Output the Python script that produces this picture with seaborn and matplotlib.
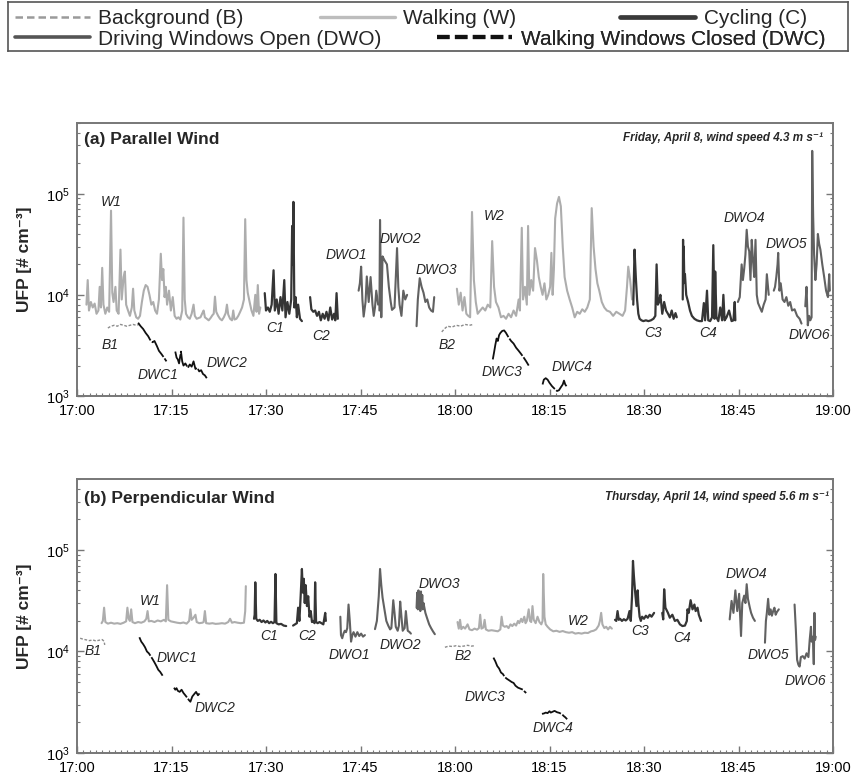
import numpy as np
import pandas as pd
import matplotlib
matplotlib.use("Agg")
import matplotlib.pyplot as plt
from matplotlib.lines import Line2D
from matplotlib.ticker import (FixedLocator, FuncFormatter, LogLocator,
                               NullFormatter, MultipleLocator)
import seaborn as sns

# ---------------------------------------------------------------------------
# UFP samples, (minutes after 17:00, concentration in 10^3 # cm^-3)
# ---------------------------------------------------------------------------
# (a) Parallel wind, Friday April 8
A_B1 = [(4.9, 4.7), (5.4, 4.9), (5.9, 5.0), (6.4, 4.9), (6.9, 5.1), (7.4, 5.0), (7.9, 4.9),
        (8.4, 5.0), (8.9, 5.1), (9.4, 5.0), (9.9, 5.1)]
A_W1 = [(1.5, 8.0), (1.7, 14.0), (1.9, 7.0), (2.2, 8.5), (2.5, 7.5), (2.8, 8.2), (3.1, 6.5),
        (3.4, 7.0), (3.6, 12.0), (3.8, 7.5), (4.0, 18.5), (4.2, 8.0), (4.5, 6.5), (4.8, 7.5),
        (5.1, 6.8), (5.4, 68.0), (5.6, 10.5), (5.8, 8.5), (6.1, 12.0), (6.3, 7.0), (6.6, 6.5),
        (6.9, 28.0), (7.1, 9.0), (7.4, 15.0), (7.6, 17.0), (7.8, 8.0), (8.1, 7.0), (8.4, 6.2),
        (8.7, 7.5), (8.9, 11.5), (9.1, 7.0), (9.4, 6.0), (9.7, 5.8), (10.0, 6.2), (10.3, 8.5),
        (10.6, 11.0), (10.9, 12.5), (11.2, 12.0), (11.5, 10.0), (11.8, 8.0), (12.1, 8.5),
        (12.4, 7.0), (12.7, 6.5), (13.0, 9.0), (13.3, 25.5), (13.5, 14.0), (13.7, 18.0),
        (13.9, 9.5), (14.1, 12.0), (14.3, 8.0), (14.6, 11.0), (14.9, 7.0), (15.2, 9.5),
        (15.5, 6.2), (15.8, 5.8), (16.1, 6.0), (16.4, 5.7), (16.7, 7.0), (16.9, 58.0),
        (17.1, 9.0), (17.3, 6.5), (17.6, 6.0), (17.9, 5.8), (18.2, 6.5), (18.5, 8.0),
        (18.7, 6.2), (19.0, 5.8), (19.3, 5.9), (19.6, 6.0), (19.9, 6.6), (20.1, 7.0),
        (20.3, 6.0), (20.6, 5.8), (20.9, 5.6), (21.2, 5.9), (21.5, 6.3), (21.7, 6.5),
        (21.9, 9.6), (22.1, 6.8), (22.4, 6.2), (22.7, 5.8), (23.0, 5.6), (23.3, 6.0),
        (23.6, 6.6), (23.8, 8.0), (24.0, 6.4), (24.3, 5.8), (24.6, 5.6), (24.8, 7.0),
        (25.0, 5.7), (25.3, 5.8), (25.6, 6.2), (25.9, 6.8), (26.2, 7.5), (26.5, 9.0),
        (26.7, 56.0), (26.9, 14.0), (27.1, 10.5), (27.4, 8.5), (27.7, 7.0), (28.0, 6.2),
        (28.3, 10.0), (28.5, 6.8), (28.7, 12.5), (28.9, 6.5), (29.1, 7.5)]
A_DWC1 = [(9.7, 5.3), (10.1, 4.9), (10.5, 4.6), (10.9, 4.2), (11.3, 3.9), (11.6, 3.6),
          (12.0, 3.4), (12.3, 3.5), (12.7, 3.1), (13.0, 2.8), (13.4, 2.6), (13.8, 2.4),
          (14.2, 2.2)]
A_DWC2 = [(15.6, 2.75), (15.8, 2.4), (16.0, 2.3), (16.2, 2.1), (16.5, 2.75), (16.7, 2.2),
          (16.9, 2.0), (17.2, 2.1), (17.6, 1.9), (17.9, 2.05), (18.2, 1.95), (18.5, 2.2),
          (18.8, 1.85), (19.1, 1.9), (19.4, 1.75), (19.7, 1.8), (20.0, 1.65), (20.3, 1.6),
          (20.6, 1.5)]
A_C1 = [(29.8, 10.4), (30.0, 7.0), (30.3, 7.5), (30.6, 6.8), (30.9, 8.0), (31.2, 17.5),
        (31.4, 7.0), (31.7, 9.0), (32.0, 6.5), (32.3, 9.5), (32.6, 7.0), (32.9, 14.0),
        (33.1, 6.0), (33.4, 8.5), (33.7, 6.5), (34.0, 9.0), (34.15, 48.0), (34.25, 20.0),
        (34.35, 83.0), (34.5, 7.5), (34.7, 9.5), (34.9, 6.0), (35.1, 8.0), (35.4, 5.8),
        (35.7, 5.5)]
A_C2 = [(37.0, 9.5), (37.2, 7.2), (37.5, 6.8), (37.8, 7.0), (38.1, 6.2), (38.4, 6.8),
        (38.7, 5.6), (39.0, 6.5), (39.3, 5.8), (39.6, 6.8), (39.9, 5.6), (40.2, 7.5),
        (40.5, 5.7), (40.8, 6.5), (41.0, 5.6), (41.2, 10.4), (41.4, 5.8)]
A_DWO1 = [(44.7, 11.0), (44.9, 13.0), (45.1, 19.0), (45.3, 9.0), (45.5, 6.1), (45.8, 8.5),
          (46.0, 15.2), (46.3, 8.5), (46.6, 15.0), (46.9, 8.0), (47.1, 6.2), (47.3, 7.5),
          (47.5, 11.0), (47.8, 8.0)]
A_DWO2 = [(48.0, 7.0), (48.1, 55.0), (48.3, 6.0), (48.5, 24.0), (48.8, 22.0), (49.2, 20.0),
          (49.5, 12.0), (49.8, 8.5), (50.0, 7.1), (50.4, 7.5), (50.8, 29.0), (51.0, 12.0),
          (51.2, 8.0), (51.5, 6.2), (51.8, 11.0), (52.1, 9.0), (52.4, 10.0)]
A_DWO3 = [(53.9, 4.9), (54.1, 9.0), (54.4, 14.6), (54.7, 12.0), (55.0, 10.5), (55.3, 8.5),
          (55.6, 9.0), (55.9, 7.5), (56.2, 7.0), (56.5, 6.8), (56.7, 9.5)]
A_B2 = [(57.9, 4.3), (58.3, 4.6), (58.8, 4.9), (59.5, 4.8), (60.2, 5.0), (60.9, 4.9),
        (61.6, 5.1), (62.3, 5.0), (62.9, 5.1)]
A_W2 = [(60.3, 11.5), (60.6, 8.0), (60.9, 10.5), (61.2, 7.0), (61.5, 9.5), (61.8, 6.5),
        (62.1, 6.2), (62.4, 6.0), (62.7, 66.0), (63.0, 14.0), (63.3, 8.5), (63.6, 6.5),
        (64.0, 7.0), (64.4, 7.5), (64.8, 7.0), (65.2, 8.0), (65.6, 7.5), (65.9, 34.0),
        (66.2, 12.0), (66.5, 8.5), (66.9, 7.5), (67.3, 6.0), (67.7, 6.2), (68.1, 5.8),
        (68.5, 6.5), (68.9, 6.0), (69.3, 7.0), (69.7, 6.2), (70.1, 9.0), (70.3, 7.0),
        (70.6, 46.0), (70.8, 9.0), (71.1, 12.0), (71.4, 8.0), (71.6, 48.0), (71.8, 10.0),
        (72.1, 14.0), (72.4, 11.0), (72.7, 29.0), (73.0, 22.0), (73.3, 15.0), (73.6, 12.0),
        (73.9, 10.0), (74.2, 13.0), (74.5, 9.0), (74.8, 10.0), (75.1, 12.0), (75.3, 26.0),
        (75.5, 10.0), (75.7, 18.0), (75.9, 57.0), (76.2, 80.0), (76.5, 93.0), (76.8, 75.0),
        (77.1, 30.0), (77.4, 15.0), (77.8, 11.0), (78.2, 9.0), (78.6, 7.5), (79.0, 6.0),
        (79.4, 6.8), (79.8, 6.5), (80.2, 7.2), (80.6, 6.8), (81.0, 7.5), (81.4, 9.0),
        (81.7, 72.0), (82.0, 30.0), (82.3, 18.0), (82.6, 13.0), (82.9, 11.0), (83.3, 8.5),
        (83.7, 7.5), (84.1, 7.0), (84.6, 6.8), (85.1, 6.2), (85.6, 6.8), (86.1, 6.5),
        (86.6, 6.2), (87.0, 7.0), (87.3, 12.0), (87.5, 19.0), (87.8, 14.0), (88.1, 9.0)]
A_DWC3 = [(66.0, 2.3), (66.2, 2.7), (66.4, 3.2), (66.6, 3.7), (66.8, 3.5), (67.0, 4.0),
          (67.2, 4.2), (67.5, 4.4), (67.8, 4.45), (68.1, 4.2), (68.5, 3.8), (68.9, 3.5),
          (69.3, 3.3), (69.7, 3.0), (70.1, 2.8), (70.5, 2.6), (70.9, 2.4), (71.3, 2.2),
          (71.7, 2.0)]
A_DWC4 = [(73.9, 1.3), (74.1, 1.45), (74.4, 1.5), (74.7, 1.45), (75.0, 1.35), (75.4, 1.25),
          (75.8, 1.18), (76.2, 1.12), (76.5, 1.14), (76.8, 1.22), (77.1, 1.3), (77.3, 1.42),
          (77.5, 1.3), (77.7, 1.25)]
A_C3 = [(88.3, 8.0), (88.5, 28.0), (88.7, 15.0), (88.9, 9.0), (89.1, 6.5), (89.3, 5.8),
        (89.6, 5.6), (89.9, 5.5), (90.3, 5.6), (90.7, 5.5), (91.1, 5.6), (91.5, 5.8),
        (91.8, 6.2), (92.0, 20.0), (92.2, 8.0), (92.4, 8.5), (92.6, 10.0), (92.9, 6.5),
        (93.2, 8.5), (93.5, 7.0), (93.8, 6.5), (94.1, 6.0), (94.4, 7.0), (94.7, 5.8),
        (95.0, 6.6), (95.2, 6.0)]
A_C4 = [(96.15, 9.0), (96.2, 35.0), (96.25, 13.0), (96.3, 30.0), (96.4, 14.0), (96.5, 16.0),
        (96.7, 10.0), (97.0, 8.5), (97.3, 7.0), (97.6, 6.2), (98.0, 5.8), (98.4, 5.6),
        (98.8, 5.5), (99.2, 5.5), (99.5, 8.3), (99.7, 5.6), (100.0, 11.0), (100.2, 5.6),
        (100.5, 5.5), (100.8, 6.0), (101.0, 31.0), (101.2, 5.8), (101.3, 17.0), (101.5, 6.0),
        (101.8, 5.5), (102.1, 7.5), (102.4, 5.6), (102.6, 10.0), (102.8, 5.6), (103.1, 6.0),
        (103.5, 7.0), (103.9, 5.5), (104.2, 5.6), (104.4, 8.5), (104.5, 5.6)]
A_DWO4 = [(104.9, 8.5), (105.2, 9.5), (105.5, 20.0), (105.7, 14.0), (105.9, 18.0),
          (106.1, 25.0), (106.3, 44.0), (106.5, 30.0), (106.7, 27.0), (106.9, 14.0),
          (107.1, 35.0), (107.3, 22.0), (107.5, 15.0), (107.7, 35.0), (107.9, 10.0),
          (108.1, 8.3), (108.4, 7.5), (108.7, 6.8), (109.0, 8.0), (109.3, 9.0), (109.5, 16.0),
          (109.8, 10.0)]
A_DWO5 = [(110.6, 11.0), (110.8, 12.0), (111.0, 15.0), (111.2, 20.0), (111.3, 26.0),
          (111.5, 11.0), (111.7, 13.0), (112.0, 9.0), (112.3, 8.5), (112.6, 9.5), (112.9, 7.8),
          (113.2, 8.5), (113.5, 7.0), (113.9, 7.2), (114.3, 6.2), (114.7, 5.8), (115.0, 5.2)]
A_DWO6 = [(115.6, 7.7), (115.8, 12.0), (116.0, 5.0), (116.2, 6.2), (116.4, 5.6), (116.6, 6.0),
          (116.7, 265.0), (116.85, 60.0), (117.0, 25.0), (117.2, 14.0), (117.4, 20.0),
          (117.6, 40.0), (117.8, 32.0), (118.0, 28.0), (118.3, 20.0), (118.6, 15.0),
          (118.9, 11.0), (119.2, 9.5), (119.4, 16.0), (119.5, 11.0)]

# (b) Perpendicular wind, Thursday April 14
B_B1 = [(0.5, 13.5), (1.0, 13.2), (1.5, 13.0), (2.0, 12.8), (2.5, 13.0), (3.0, 12.7),
        (3.5, 12.9), (4.0, 13.1), (4.3, 12.6), (4.4, 11.6)]
B_W1 = [(3.9, 19.0), (4.1, 20.0), (4.3, 27.0), (4.5, 19.5), (4.9, 18.8), (5.4, 19.2),
        (5.9, 18.8), (6.4, 19.0), (6.9, 18.7), (7.4, 19.2), (7.8, 19.8), (8.0, 27.0),
        (8.2, 21.0), (8.4, 20.0), (8.6, 26.0), (8.8, 19.5), (9.2, 19.0), (9.7, 19.5),
        (10.2, 19.2), (10.7, 19.8), (11.0, 21.0), (11.2, 25.0), (11.4, 19.8), (11.8, 20.0),
        (12.3, 19.5), (12.8, 20.2), (13.3, 19.8), (13.8, 20.5), (14.1, 19.8), (14.3, 45.0),
        (14.5, 20.5), (14.9, 19.8), (15.4, 19.5), (15.9, 19.2), (16.4, 19.0), (16.9, 19.3),
        (17.4, 18.8), (17.8, 20.0), (18.0, 26.0), (18.2, 20.5), (18.5, 21.5), (18.8, 23.0),
        (19.0, 19.5), (19.4, 19.0), (19.9, 19.2), (20.1, 19.5), (20.3, 25.0), (20.5, 19.0),
        (21.0, 18.8), (21.5, 19.0), (22.0, 18.7), (22.5, 18.8), (23.0, 19.0), (23.5, 18.8),
        (24.0, 19.5), (24.3, 21.0), (24.6, 19.2), (25.0, 19.5), (25.5, 19.2), (26.0, 19.0),
        (26.5, 19.2), (26.7, 25.0), (26.8, 44.0)]
B_DWC1 = [(9.9, 13.8), (10.2, 12.5), (10.5, 11.8), (10.8, 11.0), (11.1, 10.0), (11.4, 9.6),
          (11.7, 9.0), (12.0, 8.4), (12.3, 7.8), (12.6, 7.2), (12.9, 6.6), (13.2, 6.3),
          (13.5, 5.9), (13.7, 5.6)]
B_DWC2 = [(15.4, 4.4), (15.6, 4.2), (15.8, 4.35), (16.0, 4.1), (16.3, 4.0), (16.6, 4.2),
          (16.9, 3.9), (17.2, 3.7), (17.5, 3.5), (17.8, 3.3), (18.0, 3.2), (18.3, 3.6),
          (18.6, 3.8), (18.9, 4.0), (19.2, 3.7), (19.5, 3.9)]
B_C1 = [(28.1, 21.0), (28.2, 23.0), (28.3, 48.0), (28.45, 21.0), (28.7, 20.0), (29.0, 20.5),
        (29.3, 19.5), (29.6, 20.2), (29.9, 19.3), (30.2, 20.0), (30.5, 19.0), (30.8, 19.6),
        (31.1, 19.0), (31.35, 19.5), (31.5, 58.0), (31.65, 19.0), (32.0, 18.5), (32.4, 18.7),
        (32.8, 18.0), (33.2, 17.8)]
B_C2 = [(34.3, 18.0), (34.6, 18.5), (34.9, 19.0), (35.1, 27.0), (35.3, 20.0), (35.5, 35.0),
        (35.7, 65.0), (35.85, 38.0), (36.0, 52.0), (36.15, 30.0), (36.3, 45.0), (36.5, 28.0),
        (36.7, 35.0), (36.9, 22.0), (37.1, 25.0), (37.3, 19.5), (37.5, 20.0), (37.7, 19.0),
        (37.8, 48.0), (37.95, 19.5), (38.2, 19.0), (38.5, 19.5), (38.8, 19.0), (39.1, 18.5),
        (39.4, 24.0), (39.5, 20.0)]
B_DWO1 = [(41.8, 22.0), (41.9, 14.5), (42.1, 13.5), (42.3, 15.0), (42.5, 16.0), (42.7, 15.5),
          (42.9, 17.0), (43.1, 29.0), (43.3, 20.0), (43.5, 12.5), (43.7, 14.5), (43.9, 15.5),
          (44.2, 14.0), (44.5, 15.5), (44.8, 14.2), (45.1, 15.0), (45.4, 14.0), (45.7, 14.5)]
B_DWO2 = [(47.3, 16.6), (47.6, 20.0), (47.9, 35.0), (48.1, 65.0), (48.3, 45.0), (48.5, 34.0),
          (48.8, 26.0), (49.1, 20.0), (49.4, 18.0), (49.7, 16.5), (49.9, 17.0), (50.2, 32.0),
          (50.4, 24.0), (50.6, 17.5), (50.9, 16.0), (51.1, 18.0), (51.3, 31.0), (51.5, 22.0),
          (51.7, 16.0), (52.0, 17.0), (52.2, 25.0), (52.5, 16.0), (52.8, 15.5), (53.0, 15.0)]
B_DWO3 = [(53.9, 27.0), (54.0, 38.0), (54.1, 26.0), (54.2, 40.0), (54.3, 28.0), (54.4, 37.0),
          (54.5, 25.0), (54.6, 39.0), (54.7, 27.0), (54.8, 36.0), (54.9, 26.0), (55.0, 30.0),
          (55.3, 24.0), (55.6, 21.0), (55.9, 18.5), (56.2, 17.0), (56.5, 15.8), (56.8, 14.8)]
B_B2 = [(58.4, 11.0), (59.0, 11.3), (59.6, 11.2), (60.2, 11.4), (60.8, 11.2), (61.4, 11.3),
        (62.0, 11.5), (62.6, 11.3), (63.2, 11.4)]
B_W2 = [(60.4, 19.5), (60.6, 16.8), (60.8, 20.5), (61.0, 16.6), (61.3, 17.5), (61.6, 16.8),
        (62.0, 18.5), (62.3, 16.5), (62.7, 16.2), (63.1, 16.8), (63.5, 16.4), (63.8, 17.0),
        (64.0, 23.0), (64.2, 16.8), (64.5, 17.2), (64.7, 20.5), (64.9, 16.5), (65.3, 16.0),
        (65.8, 16.2), (66.3, 16.0), (66.8, 15.8), (67.2, 16.5), (67.4, 22.0), (67.6, 18.0),
        (67.9, 17.5), (68.2, 17.8), (68.5, 17.0), (68.8, 18.5), (69.1, 17.8), (69.4, 18.8),
        (69.7, 18.0), (70.0, 20.0), (70.2, 19.0), (70.5, 21.0), (70.7, 19.5), (71.0, 22.0),
        (71.2, 19.0), (71.4, 20.0), (71.7, 26.0), (71.9, 20.0), (72.1, 19.5), (72.3, 28.0),
        (72.5, 20.5), (72.8, 19.0), (73.1, 22.0), (73.4, 19.5), (73.7, 18.5), (73.9, 20.0),
        (74.0, 58.0), (74.2, 22.0), (74.4, 18.5), (74.7, 17.5), (75.1, 16.5), (75.6, 15.8),
        (76.1, 16.0), (76.6, 15.6), (77.1, 15.9), (77.6, 15.5), (78.1, 15.3), (78.6, 15.5),
        (79.1, 15.0), (79.6, 15.2), (80.1, 15.0), (80.6, 15.3), (81.1, 15.2), (81.6, 15.8),
        (82.0, 16.0), (82.4, 16.5), (82.8, 18.0), (83.0, 20.0), (83.2, 24.0), (83.4, 18.5),
        (83.7, 17.0), (84.0, 17.5), (84.3, 16.5), (84.6, 17.5), (84.9, 16.8)]
B_DWC3 = [(66.1, 8.7), (66.4, 8.0), (66.7, 7.2), (67.0, 6.8), (67.3, 6.2), (67.6, 6.0),
          (67.9, 5.6), (68.2, 5.4), (68.6, 5.2), (69.0, 5.0), (69.3, 4.9), (69.6, 4.6),
          (70.0, 4.4), (70.4, 4.3), (70.8, 4.2), (71.1, 4.0), (71.3, 3.9)]
B_DWC4 = [(73.8, 2.43), (74.1, 2.45), (74.4, 2.5), (74.7, 2.47), (75.0, 2.58), (75.2, 2.5),
          (75.5, 2.55), (75.8, 2.6), (76.2, 2.52), (76.6, 2.48), (77.0, 2.4), (77.3, 2.3),
          (77.5, 2.25), (77.8, 2.15)]
B_C3 = [(85.4, 20.5), (85.6, 20.0), (85.8, 25.0), (86.0, 20.5), (86.2, 21.0), (86.5, 20.0),
        (86.8, 20.8), (87.1, 20.2), (87.4, 21.0), (87.7, 25.0), (87.9, 20.0), (88.1, 35.0),
        (88.25, 78.0), (88.4, 55.0), (88.6, 38.0), (88.8, 28.0), (89.0, 40.0), (89.1, 30.0),
        (89.3, 22.0), (89.5, 20.0), (89.7, 22.0), (90.0, 21.0), (90.3, 22.5), (90.6, 21.5),
        (90.9, 23.0), (91.2, 22.0), (91.6, 24.0)]
B_C4 = [(92.9, 24.0), (93.05, 20.7), (93.2, 41.0), (93.4, 27.0), (93.8, 24.0), (94.1, 21.5),
        (94.5, 23.0), (94.9, 20.0), (95.3, 20.5), (95.7, 18.5), (96.1, 17.8), (96.5, 18.0),
        (96.8, 20.0), (96.9, 26.0), (97.1, 24.0), (97.4, 32.0), (97.7, 26.0), (98.0, 29.0),
        (98.2, 25.0), (98.5, 27.0), (98.7, 23.0), (99.05, 20.0)]
B_DWO4 = [(103.6, 20.7), (103.9, 31.5), (104.2, 24.0), (104.5, 40.0), (104.8, 25.0),
          (105.1, 37.0), (105.4, 14.2), (105.6, 30.0), (105.9, 35.5), (106.1, 30.0),
          (106.3, 46.0), (106.5, 33.0), (106.8, 27.0), (107.0, 24.0), (107.3, 21.5),
          (107.6, 20.0)]
B_DWO5 = [(109.2, 12.2), (109.35, 20.0), (109.5, 24.0), (109.7, 33.0), (109.9, 23.0),
          (110.1, 26.0), (110.3, 22.5), (110.5, 25.0), (110.7, 27.0), (110.9, 23.0),
          (111.1, 24.5), (111.4, 26.0)]
B_DWO6 = [(113.9, 29.0), (114.1, 16.5), (114.3, 8.3), (114.5, 7.4), (114.7, 7.1), (114.9, 8.8),
          (115.2, 9.0), (115.5, 8.5), (115.8, 9.6), (116.1, 8.8), (116.3, 13.0), (116.5, 17.5),
          (116.6, 12.5), (116.8, 14.0), (116.95, 7.5), (117.05, 24.0), (117.15, 13.0),
          (117.25, 14.0)]

# segment name, transport mode, samples
PANEL_A = [("B1", "B", A_B1), ("W1", "W", A_W1), ("DWC1", "DWC", A_DWC1), ("DWC2", "DWC", A_DWC2),
           ("C1", "C", A_C1), ("C2", "C", A_C2), ("DWO1", "DWO", A_DWO1), ("DWO2", "DWO", A_DWO2),
           ("DWO3", "DWO", A_DWO3), ("B2", "B", A_B2), ("W2", "W", A_W2), ("DWC3", "DWC", A_DWC3),
           ("DWC4", "DWC", A_DWC4), ("C3", "C", A_C3), ("C4", "C", A_C4), ("DWO4", "DWO", A_DWO4),
           ("DWO5", "DWO", A_DWO5), ("DWO6", "DWO", A_DWO6)]
PANEL_B = [("B1", "B", B_B1), ("W1", "W", B_W1), ("DWC1", "DWC", B_DWC1), ("DWC2", "DWC", B_DWC2),
           ("C1", "C", B_C1), ("C2", "C", B_C2), ("DWO1", "DWO", B_DWO1), ("DWO2", "DWO", B_DWO2),
           ("DWO3", "DWO", B_DWO3), ("B2", "B", B_B2), ("W2", "W", B_W2), ("DWC3", "DWC", B_DWC3),
           ("DWC4", "DWC", B_DWC4), ("C3", "C", B_C3), ("C4", "C", B_C4), ("DWO4", "DWO", B_DWO4),
           ("DWO5", "DWO", B_DWO5), ("DWO6", "DWO", B_DWO6)]

# segment tags: text, minute, UFP level of the tag
TAGS_A = [("W1", 5.4, 83e3), ("B1", 5.2, 3.2e3), ("DWC1", 12.9, 1.6e3), ("DWC2", 23.8, 2.1e3),
          ("C1", 31.4, 4.7e3), ("C2", 38.8, 3.9e3), ("DWO1", 42.8, 25e3), ("DWO2", 51.3, 36e3),
          ("DWO3", 57.1, 17.7e3), ("B2", 58.7, 3.2e3), ("W2", 66.2, 60e3), ("DWC3", 67.4, 1.74e3),
          ("DWC4", 78.5, 1.95e3), ("C3", 91.5, 4.2e3), ("C4", 100.1, 4.2e3), ("DWO4", 106.0, 57e3),
          ("DWO5", 112.6, 32e3), ("DWO6", 116.3, 4.0e3)]
TAGS_B = [("W1", 11.6, 31.5e3), ("B1", 2.6, 10e3), ("DWC1", 15.8, 8.7e3), ("DWC2", 21.9, 2.77e3),
          ("C1", 30.5, 14.2e3), ("C2", 36.5, 14.2e3), ("DWO1", 43.3, 9.3e3), ("DWO2", 51.3, 11.7e3),
          ("DWO3", 57.6, 46e3), ("B2", 61.3, 9e3), ("W2", 79.6, 20e3), ("DWC3", 64.8, 3.6e3),
          ("DWC4", 75.6, 1.75e3), ("C3", 89.4, 15.8e3), ("C4", 96.0, 13.7e3), ("DWO4", 106.3, 58e3),
          ("DWO5", 109.7, 9.3e3), ("DWO6", 115.6, 5.1e3)]

MODES = ["B", "W", "C", "DWO", "DWC"]
MODE_NAMES = ["Background (B)", "Walking (W)", "Cycling (C)",
              "Driving Windows Open (DWO)", "Walking Windows Closed (DWC)"]

# ---------------------------------------------------------------------------
# styling
# ---------------------------------------------------------------------------
sns.set_style("ticks")
plt.rcParams["font.family"] = ["Liberation Sans", "DejaVu Sans"]
plt.rcParams["mathtext.default"] = "regular"

PALETTE = {"B": "#8c8c8c", "W": "#adadad", "C": "#353535", "DWO": "#616161", "DWC": "#101010"}
WIDTHS = {"B": 1.0, "W": 1.5, "C": 1.6, "DWO": 1.5, "DWC": 1.3}
DASHES = {"B": (2, 1.2), "W": "", "C": "", "DWO": "", "DWC": (12, 1)}


def build_frame(panel):
    rows = []
    for name, mode, samples in panel:
        for minute, k in samples:
            rows.append({"seg": name, "mode": mode, "minute": minute, "ufp": k * 1e3})
    return pd.DataFrame(rows)


def clock(m, _pos):
    m = int(round(m))
    return f"{17 + m // 60}:{m % 60:02d}"


fig = plt.figure(figsize=(8.57, 7.8), dpi=100)
W, H = 857.0, 780.0
ax_a = fig.add_axes([77 / W, 1 - 396 / H, 756 / W, 273 / H])
ax_b = fig.add_axes([77 / W, 1 - 753 / H, 756 / W, 274 / H])

panels = [
    (ax_a, PANEL_A, TAGS_A, "(a) Parallel Wind",
     "Friday, April 8, wind speed 4.3 m s\u207b\u00b9", 0.938, 0.945, 0.987),
    (ax_b, PANEL_B, TAGS_B, "(b) Perpendicular Wind",
     "Thursday, April 14, wind speed 5.6 m s\u207b\u00b9", 0.93, 0.935, 0.995),
]

for ax, panel, tags, title, note, ty, ny, nx in panels:
    df = build_frame(panel)
    sns.lineplot(data=df, x="minute", y="ufp", hue="mode", hue_order=MODES,
                 units="seg", estimator=None, sort=False, palette=PALETTE,
                 size="mode", sizes=WIDTHS, style="mode", dashes=DASHES,
                 legend=False, ax=ax)
    ax.set_yscale("log")
    ax.set_xlim(0, 120)
    ax.set_ylim(1e3, 5e5)

    ax.xaxis.set_major_locator(MultipleLocator(15))
    ax.xaxis.set_minor_locator(MultipleLocator(1))
    ax.xaxis.set_major_formatter(FuncFormatter(clock))
    ax.yaxis.set_major_locator(FixedLocator([1e3, 1e4, 1e5]))
    ax.yaxis.set_major_formatter(
        FuncFormatter(lambda v, _p: r"$10^{%d}$" % int(round(np.log10(v)))))
    ax.yaxis.set_minor_locator(LogLocator(base=10, subs=np.arange(2, 10)))
    ax.yaxis.set_minor_formatter(NullFormatter())
    ax.tick_params(which="both", direction="in", right=True, top=False,
                   colors="#777777", labelcolor="black", labelsize=10.5)
    ax.tick_params(which="major", length=5, width=1.0)
    ax.tick_params(which="minor", length=2.5, width=0.8)
    ax.tick_params(axis="y", which="major", pad=5)
    ax.tick_params(axis="x", which="major", pad=6)
    for s in ax.spines.values():
        s.set_color("#777777")
        s.set_linewidth(1.4)

    ax.set_xlabel("")
    ax.set_ylabel("UFP [# cm\u207b\u00b3]", fontsize=12.5, fontweight="bold")
    ax.yaxis.set_label_coords(-0.06, 0.5)

    ax.text(0.009, ty, title, transform=ax.transAxes, fontsize=12.5,
            fontweight="bold", ha="left", va="center")
    ax.text(nx, ny, note, transform=ax.transAxes, fontsize=8.4, fontweight="bold",
            fontstyle="italic", ha="right", va="center")
    for text, minute, level in tags:
        ax.text(minute, level, text, fontsize=10, fontstyle="italic",
                ha="center", va="center")

# ---------------------------------------------------------------------------
# legend box across the top
# ---------------------------------------------------------------------------
lax = fig.add_axes([8 / W, 1 - 51 / H, 840 / W, 49 / H])
lax.set_xticks([])
lax.set_yticks([])
for s in lax.spines.values():
    s.set_color("#555555")
    s.set_linewidth(1.2)

legend_style = {
    "B": dict(color="#9a9a9a", lw=1.8, ls=(0, (3, 1.6))),
    "W": dict(color="#bdbdbd", lw=2.4),
    "C": dict(color="#3a3a3a", lw=3.4),
    "DWO": dict(color="#555555", lw=2.6),
    "DWC": dict(color="#111111", lw=3.0, ls=(0, (3, 1.3))),
}
slots = {"B": (0.008, 0.66), "W": (0.371, 0.66), "C": (0.729, 0.66),
         "DWO": (0.008, 0.24), "DWC": (0.511, 0.24)}
for mode, name in zip(MODES, MODE_NAMES):
    handle = Line2D([], [], **legend_style[mode])
    leg = lax.legend(handles=[handle], labels=[name], loc="center left",
                     bbox_to_anchor=slots[mode], frameon=False, borderpad=0,
                     borderaxespad=0, handlelength=3.6, handletextpad=0.4,
                     fontsize=15)
    lax.add_artist(leg)

fig.savefig("out.png", dpi=100)
